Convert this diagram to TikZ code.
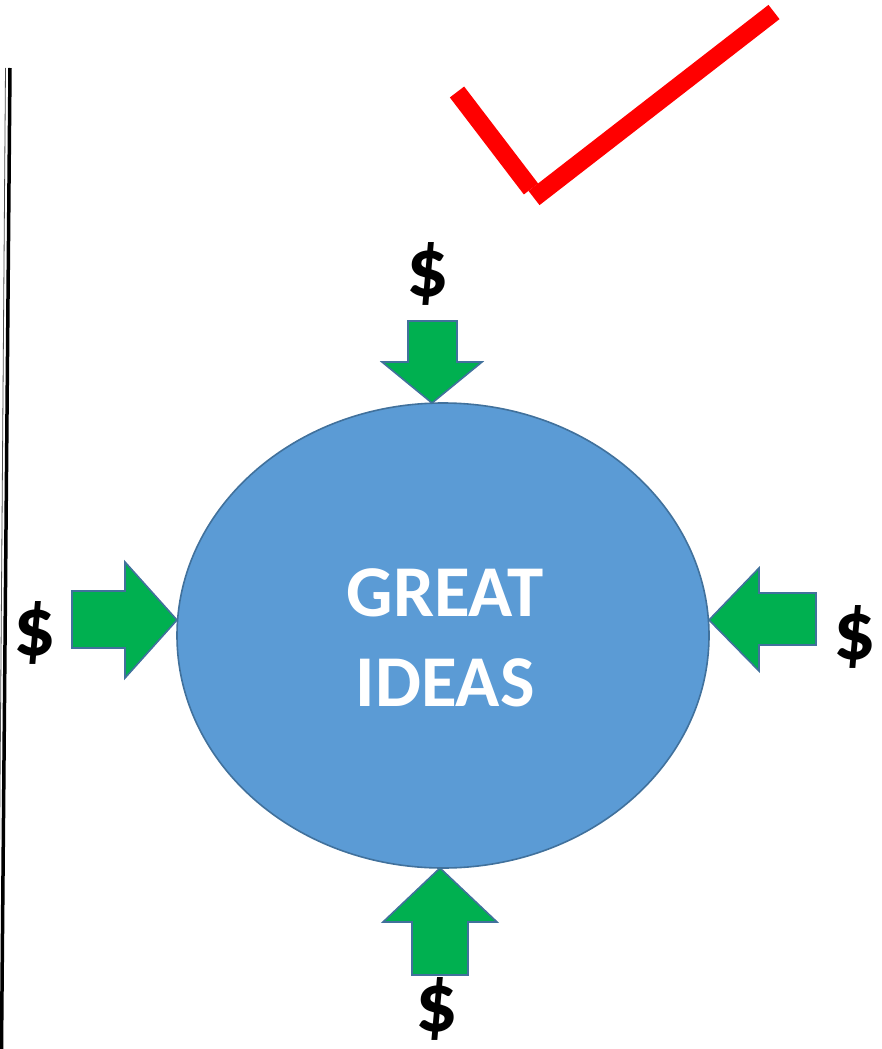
\documentclass[tikz,border=0pt]{standalone}
\usepackage{fontspec}
\setmainfont{Carlito}
\usetikzlibrary{shapes.geometric}
\definecolor{ideablue}{HTML}{5B9BD5}
\definecolor{edgeblue}{HTML}{41719C}
\definecolor{arrowgreen}{HTML}{00B050}
\begin{document}
\begin{tikzpicture}[x=1pt,y=-1pt,
  blockarrow/.style={fill=arrowgreen,draw=edgeblue,line width=1.6pt,line join=miter},
  dollar/.style={font=\fontsize{84}{90}\selectfont\bfseries,text=black,inner sep=0pt},
  tick/.style={draw=red,line width=18pt,line cap=butt}]
\useasboundingbox (0,0) rectangle (881,1049);
% left border lines
\draw[line width=3.5pt,black] (10,68) -- (1.5,1049);
\draw[line width=0.8pt,black!70] (5.5,68) -- (-2,1049);
% ellipse
\node[ellipse,fill=ideablue,draw=edgeblue,line width=1.6pt,minimum width=532pt,minimum height=465pt,inner sep=0pt] (idea) at (443,635.5) {};
\node[font=\fontsize{73}{90}\selectfont\bfseries,text=white,align=center] (lbl) at (445,638) {GREAT\\IDEAS};
% arrows
\draw[blockarrow] (408,321) -- (457,321) -- (457,362) -- (482,362) -- (432,403) -- (382,362) -- (408,362) -- cycle;
\draw[blockarrow] (72,591) -- (125,591) -- (125,562) -- (177,620) -- (125,678) -- (125,648) -- (72,648) -- cycle;
\draw[blockarrow] (816,593) -- (759,593) -- (759,568) -- (709,620) -- (759,671) -- (759,645) -- (816,645) -- cycle;
\draw[blockarrow] (412,975) -- (468,975) -- (468,922) -- (497,922) -- (440,868) -- (383,922) -- (412,922) -- cycle;
% dollars
\node[dollar] (dtop) at (428,274) {\$};
\node[dollar] (dleft) at (35,633) {\$};
\node[dollar] (dright) at (855,637) {\$};
\node[dollar] (dbot) at (437,1009) {\$};
% check mark
\draw[tick] (457,92) -- (531,189);
\draw[tick] (534,198) -- (774,12);
\end{tikzpicture}
\end{document}
